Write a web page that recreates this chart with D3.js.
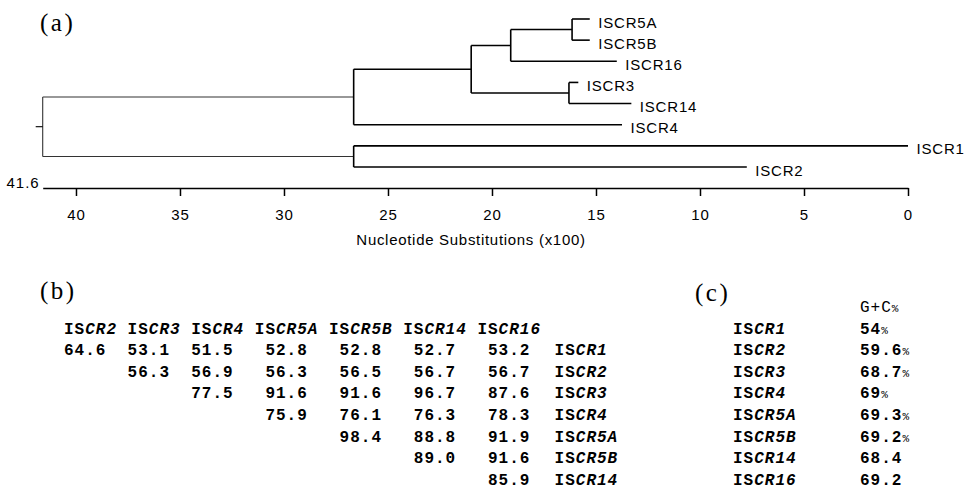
<!DOCTYPE html>
<html>
<head>
<meta charset="utf-8">
<script src="https://cdn.jsdelivr.net/npm/d3@7"></script>
<style>
  body { margin: 0; background: #fff; }
  svg { display: block; }
</style>
</head>
<body>
<div id="chart"></div>
<script>
// (a) tree: node name, parent, height in nucleotide substitutions (x100)
const nodeNames   = ["root", "A", "B", "C", "D", "E", "F", "ISCR5A", "ISCR5B", "ISCR16", "ISCR3", "ISCR14", "ISCR4", "ISCR1", "ISCR2"];
const nodeParents = ["", "root", "root", "A", "C", "D", "C", "E", "E", "D", "F", "F", "A", "B", "B"];
const nodeHeights = [41.6, 26.65, 26.65, 21.0, 19.1, 16.15, 16.3, 15.3, 15.3, 14.0, 15.85, 13.3, 13.75, 0, 7.75];
const axisTicks = [40, 35, 30, 25, 20, 15, 10, 5, 0];
const rootLabel = "41.6";

// (b) identity matrix
const matrixCols = ["ISCR2", "ISCR3", "ISCR4", "ISCR5A", "ISCR5B", "ISCR14", "ISCR16"];
const matrixRows = ["ISCR1", "ISCR2", "ISCR3", "ISCR4", "ISCR5A", "ISCR5B", "ISCR14"];
const identity = [
    [64.6, 53.1, 51.5, 52.8, 52.8, 52.7, 53.2],
    [null, 56.3, 56.9, 56.3, 56.5, 56.7, 56.7],
    [null, null, 77.5, 91.6, 91.6, 96.7, 87.6],
    [null, null, null, 75.9, 76.1, 76.3, 78.3],
    [null, null, null, null, 98.4, 88.8, 91.9],
    [null, null, null, null, null, 89.0, 91.6],
    [null, null, null, null, null, null, 85.9]
];

// (c) G+C content
const gcNames  = ["ISCR1", "ISCR2", "ISCR3", "ISCR4", "ISCR5A", "ISCR5B", "ISCR14", "ISCR16"];
const gcValues = [54, 59.6, 68.7, 69, 69.3, 69.2, 68.4, 69.2];
const gcHasPct = [true, true, true, true, true, true, false, false];

const W = 968, H = 489;
const sans = "'Liberation Sans', Arial, sans-serif";
const serif = "'Liberation Serif', 'Times New Roman', serif";
const mono = "'Liberation Mono', 'Courier New', monospace";

const svg = d3.select("#chart").append("svg")
    .attr("width", W)
    .attr("height", H);

svg.append("rect").attr("width", W).attr("height", H).attr("fill", "#fff");

// panel letters
function panelLabel(txt, x, y) {
    svg.append("text")
        .attr("x", x).attr("y", y)
        .style("font-family", serif)
        .style("font-size", "25px")
        .style("letter-spacing", "2.5px")
        .text(txt);
}
panelLabel("(a)", 40, 31);
panelLabel("(b)", 40, 299);
panelLabel("(c)", 695, 301);

// ---- (a) tree ----
const root = d3.stratify()
    .id((d, i) => nodeNames[i])
    .parentId((d, i) => nodeParents[i] || null)(nodeNames.map((n, i) => ({ name: n, h: nodeHeights[i] })));

const leaves = root.leaves().map(d => d.id);

const x = d3.scaleLinear().domain([41.6, 0]).range([42.7, 908]);
const yLeaf = d3.scalePoint().domain(leaves).range([19, 167]);

// y position of every node: leaves from the scale, inner nodes at the middle of their children
root.eachAfter(d => {
    if (!d.children) d.y = yLeaf(d.id);
    else d.y = (d.children[0].y + d.children[d.children.length - 1].y) / 2;
});

const tree = svg.append("g").attr("fill", "none").attr("stroke", "#000");

// horizontal branches
tree.selectAll(".branch")
    .data(root.descendants().filter(d => d.parent))
    .enter().append("path")
    .attr("class", "branch")
    .attr("d", d => `M${x(d.parent.data.h)},${d.y}H${x(d.data.h)}`)
    .attr("stroke-width", d => d.depth === 1 ? 1.1 : 1.6)
    .attr("stroke", d => d.depth === 1 ? "#333" : "#000");

// vertical connectors
tree.selectAll(".joint")
    .data(root.descendants().filter(d => d.children))
    .enter().append("path")
    .attr("class", "joint")
    .attr("d", d => `M${x(d.data.h)},${d.children[0].y}V${d.children[d.children.length - 1].y}`)
    .attr("stroke-width", d => d.depth === 0 ? 1.1 : 1.6)
    .attr("stroke", d => d.depth === 0 ? "#333" : "#000");

// root stub
tree.append("path")
    .attr("d", `M${x(41.6) - 7},${root.y}H${x(41.6)}`)
    .attr("stroke-width", 1.1);

// leaf labels
svg.selectAll(".leaf")
    .data(root.leaves())
    .enter().append("text")
    .attr("class", "leaf")
    .attr("x", d => x(d.data.h) + 8.5)
    .attr("y", d => d.y + 8.5)
    .style("font-family", sans)
    .style("font-size", "15px")
    .style("letter-spacing", "0.8px")
    .text(d => d.id);

// axis
const axisY = 188;
const axis = svg.append("g")
    .attr("transform", `translate(0,${axisY})`)
    .call(d3.axisBottom(x).tickValues(axisTicks).tickSize(8).tickSizeOuter(0).tickPadding(13));
axis.select(".domain").attr("stroke-width", 1.5);
axis.selectAll(".tick line").attr("stroke-width", 1.5);
axis.selectAll(".tick text")
    .style("font-family", sans)
    .style("font-size", "15px")
    .style("letter-spacing", "1px");

svg.append("text")
    .attr("x", x(41.6) - 3)
    .attr("y", axisY)
    .attr("text-anchor", "end")
    .style("font-family", sans)
    .style("font-size", "15px")
    .style("letter-spacing", "1px")
    .text(rootLabel);

svg.append("text")
    .attr("x", 471)
    .attr("y", 245)
    .attr("text-anchor", "middle")
    .style("font-family", sans)
    .style("font-size", "15px")
    .style("letter-spacing", "0.7px")
    .text("Nucleotide Substitutions (x100)");

// ---- (b) matrix ----
const cw = 10.6; // one monospace character
const colOffset = [];
matrixCols.reduce((acc, c) => { colOffset.push(acc); return acc + c.length + 1; }, 0);
const rowLabelOffset = colOffset[colOffset.length - 1] + matrixCols[matrixCols.length - 1].length + 1;
const xChar = d3.scaleLinear().domain([0, 1]).range([64, 64 + cw]);
const yRow = d3.scaleLinear().domain([0, 1]).range([333.5, 333.5 + 21.6]);

function isName(sel, name) {
    sel.append("tspan").text(name.slice(0, 2));
    sel.append("tspan").style("font-style", "italic").text(name.slice(2));
}

const tb = svg.append("g")
    .style("font-family", mono)
    .style("font-size", "16px")
    .style("font-weight", "bold")
    .style("letter-spacing", "1px");

matrixCols.forEach((c, j) => {
    tb.append("text")
        .attr("x", xChar(colOffset[j]))
        .attr("y", yRow(0))
        .call(isName, c);
});

identity.forEach((row, i) => {
    row.forEach((v, j) => {
        if (v === null) return;
        tb.append("text")
            .attr("x", xChar(colOffset[j] + matrixCols[j].length - 1))
            .attr("y", yRow(i + 1))
            .attr("text-anchor", "end")
            .text(v.toFixed(1));
    });
    tb.append("text")
        .attr("x", xChar(rowLabelOffset) + 3)
        .attr("y", yRow(i + 1))
        .call(isName, matrixRows[i]);
});

// ---- (c) G+C ----
const gc = svg.append("g")
    .style("font-family", mono)
    .style("font-size", "16px")
    .style("font-weight", "bold")
    .style("letter-spacing", "1px");

const gcNameX = 733, gcValX = 860;

const gcHead = gc.append("text").attr("x", gcValX).attr("y", yRow(-1));
gcHead.append("tspan").style("font-weight", "normal").text("G+C");
gcHead.append("tspan").style("font-size", "11px").style("font-weight", "normal").text("%");

gcNames.forEach((n, i) => {
    gc.append("text")
        .attr("x", gcNameX)
        .attr("y", yRow(i))
        .call(isName, n);
    const t = gc.append("text")
        .attr("x", gcValX)
        .attr("y", yRow(i));
    t.append("tspan").text(String(gcValues[i]));
    if (gcHasPct[i]) {
        t.append("tspan").style("font-size", "11px").style("font-weight", "normal").text("%");
    }
});
</script>
</body>
</html>
